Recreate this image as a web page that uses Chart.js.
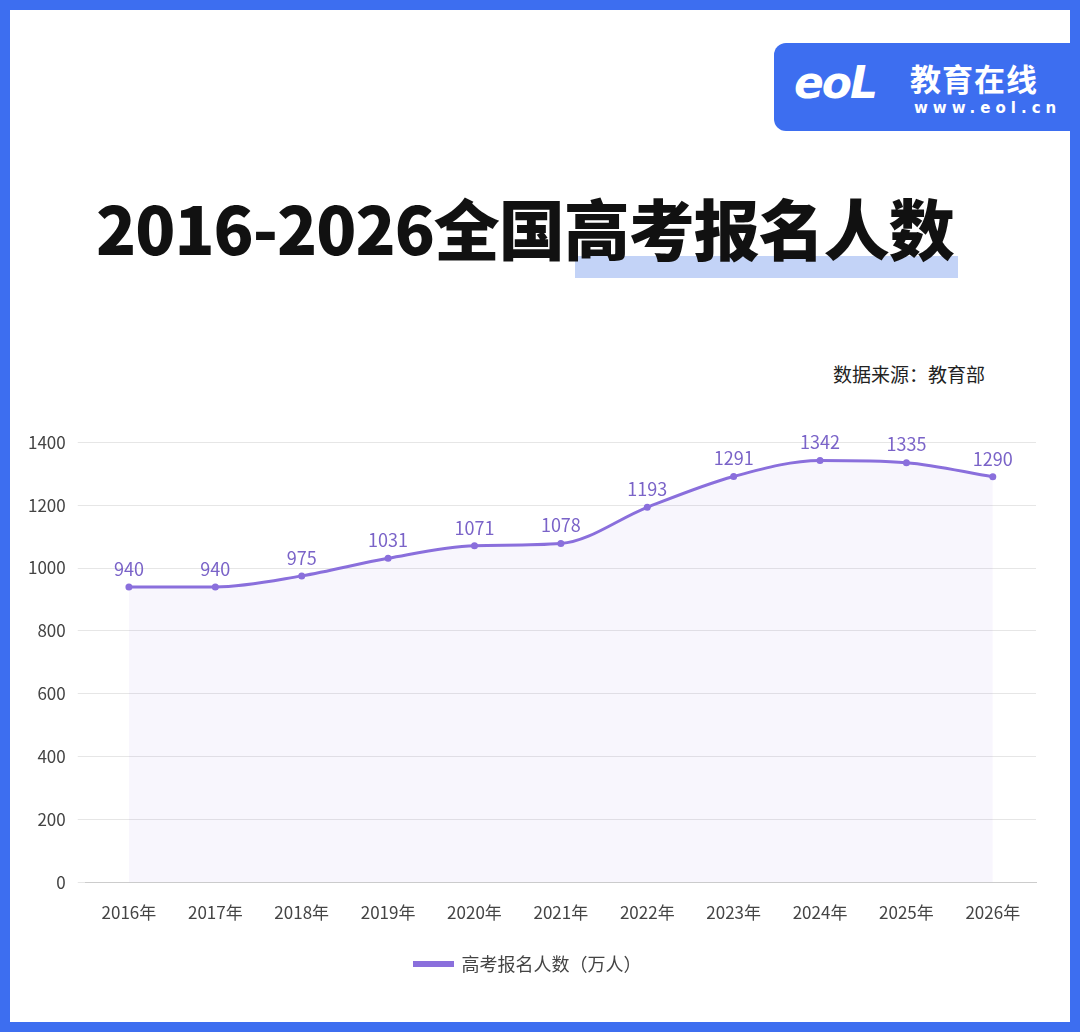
<!doctype html>
<html lang="zh">
<head>
<meta charset="utf-8">
<title>2016-2026全国高考报名人数</title>
<script src="https://cdn.jsdelivr.net/npm/chart.js@4.4.1/dist/chart.umd.min.js"></script>
<style>
 body{margin:0;background:#fff;font-family:"Noto Sans CJK SC",sans-serif}
 .frame{position:absolute;left:0;top:0;width:1060px;height:1012px;border:10px solid #3d6ef0;background:#fff}
 .logo{position:absolute;left:764px;top:33px;width:296px;height:88px;background:#3d6ef0;border-radius:12px 0 0 12px;color:#fff}
 .logo .eol{position:absolute;left:20px;top:14px;font:italic bold 44px "DejaVu Sans";letter-spacing:-2px}
 .logo .cn{position:absolute;left:136px;top:12px;font-size:31px;font-weight:bold;letter-spacing:1px}
 .logo .url{position:absolute;left:140px;top:56px;font:bold 15px "DejaVu Sans";letter-spacing:5px}
 .title{position:absolute;left:86px;top:168px;font-size:66px;font-weight:900;color:#111;letter-spacing:-1px;white-space:nowrap}
 .hl{position:absolute;left:565px;top:246px;width:383px;height:22px;background:#c3d3f7}
 .src{position:absolute;left:823px;top:350px;font-size:19px;color:#222}
 #wrap{position:absolute;left:6px;top:410px;width:1024px;height:563px}
</style>
</head>
<body>
<div class="frame">
 <div class="logo"><span class="eol">eoL</span><span class="cn">教育在线</span><span class="url">www.eol.cn</span></div>
 <div class="hl"></div>
 <div class="title">2016-2026全国高考报名人数</div>
 <div class="src">数据来源：教育部</div>
 <div id="wrap"><canvas id="c"></canvas></div>
</div>
<script>
const years = ["2016年","2017年","2018年","2019年","2020年","2021年","2022年","2023年","2024年","2025年","2026年"];
const applicants = [940,940,975,1031,1071,1078,1193,1291,1342,1335,1290];
const seriesName = "高考报名人数（万人）";

const labelPlugin = {
  id:'vals',
  afterDatasetsDraw(chart){
    const ctx = chart.ctx;
    const meta = chart.getDatasetMeta(0);
    ctx.save();
    ctx.font = '18px "Noto Sans CJK SC"';
    ctx.fillStyle = '#7a63c8';
    ctx.textAlign = 'center';
    meta.data.forEach((p,i)=>ctx.fillText(applicants[i], p.x, p.y-18));
    ctx.restore();
  }
};

new Chart(document.getElementById('c'),{
  type:'line',
  data:{labels:years,datasets:[{
    label:seriesName,data:applicants,
    borderColor:'#8a6fdc',borderWidth:3,cubicInterpolationMode:'monotone',
    pointRadius:3.5,pointBackgroundColor:'#8a6fdc',pointBorderWidth:0,
    fill:'origin',backgroundColor:'rgba(150,130,230,0.07)'
  }]},
  options:{
    responsive:true,maintainAspectRatio:false,animation:false,
    layout:{padding:{left:0,right:0,top:20}},
    plugins:{
      legend:{position:'bottom',labels:{color:'#444',font:{size:18,family:'"Noto Sans CJK SC"'},boxWidth:38,boxHeight:3,padding:20}},
      tooltip:{enabled:false}
    },
    scales:{
      x:{offset:true,grid:{display:false},border:{color:'#ccc'},ticks:{color:'#444',font:{size:17,family:'"Noto Sans CJK SC"'},padding:12,maxRotation:0}},
      y:{min:0,max:1400,ticks:{stepSize:200,color:'#444',font:{size:17,family:'"Noto Sans CJK SC"'},padding:12,callback:v=>String(v)},grid:{color:'#e6e6e6'},border:{display:false}}
    }
  },
  plugins:[labelPlugin]
});
</script>
</body>
</html>
